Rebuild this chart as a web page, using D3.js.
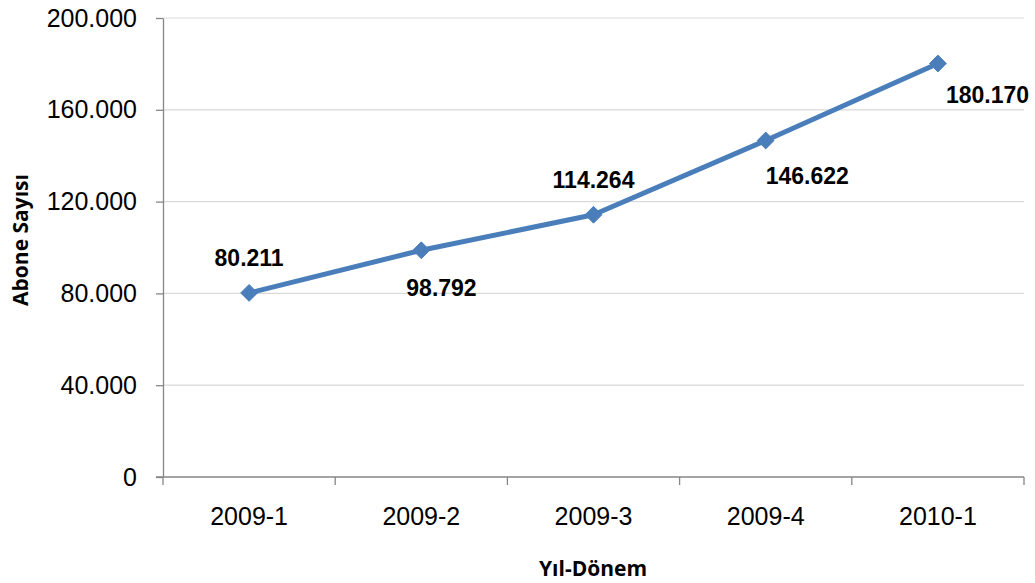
<!DOCTYPE html>
<html>
<head>
<meta charset="utf-8">
<script src="https://cdn.jsdelivr.net/npm/d3@7"></script>
<style>
  html, body { margin: 0; padding: 0; background: #fff; }
  svg { display: block; }
</style>
</head>
<body>
<svg id="chart" width="1035" height="583"></svg>
<script>
// Subscriber counts per period
const periods = ["2009-1", "2009-2", "2009-3", "2009-4", "2010-1"];
const subscribers = [80211, 98792, 114264, 146622, 180170];
const yTicks = [0, 40000, 80000, 120000, 160000, 200000];
// Where each value label sits relative to its point
const labelSide = ["above", "belowLeft", "above", "below", "belowRight"];

const fmt = v => d3.format(",")(v).replace(/,/g, ".");

const svg = d3.select("#chart");
const margin = { left: 163, right: 11, top: 18, bottom: 106 };
const W = 1035, H = 583;

const x = d3.scaleBand().domain(periods)
  .range([margin.left, W - margin.right]).paddingInner(0).paddingOuter(0);
const y = d3.scaleLinear().domain([0, 200000]).range([H - margin.bottom, margin.top]);

// Horizontal gridlines
svg.append("g").selectAll("line").data(yTicks.filter(d => d > 0)).join("line")
  .attr("x1", margin.left).attr("x2", W - margin.right)
  .attr("y1", d => y(d)).attr("y2", d => y(d))
  .attr("stroke", "#d9d9d9").attr("stroke-width", 1.2);

// Y axis
const yAxis = svg.append("g").attr("transform", `translate(${margin.left},0)`)
  .call(d3.axisLeft(y).tickValues(yTicks).tickFormat(fmt).tickSize(7).tickSizeOuter(0).tickPadding(19));
yAxis.select(".domain").attr("stroke", "#868686").attr("stroke-width", 1.3);
yAxis.selectAll(".tick line").attr("stroke", "#868686").attr("stroke-width", 1.3);
yAxis.selectAll("text").attr("font-family", "Liberation Sans, Arial, sans-serif")
  .attr("font-size", 25).attr("fill", "#000");

// X axis with ticks on band boundaries
const xAxis = svg.append("g").attr("transform", `translate(0,${y(0)})`)
  .call(d3.axisBottom(x).tickSize(0).tickPadding(30));
xAxis.select(".domain").remove();
xAxis.append("line").attr("x1", margin.left - 7).attr("x2", W - margin.right)
  .attr("stroke", "#868686").attr("stroke-width", 1.3);
const bounds = periods.map(p => x(p)).concat([x(periods[periods.length - 1]) + x.bandwidth()]);
xAxis.selectAll(".bound").data(bounds).join("line").attr("class", "bound")
  .attr("x1", d => d).attr("x2", d => d).attr("y1", 0).attr("y2", 8)
  .attr("stroke", "#868686").attr("stroke-width", 1.3);
xAxis.selectAll("text").attr("font-family", "Liberation Sans, Arial, sans-serif")
  .attr("font-size", 25).attr("fill", "#000");

// Axis titles
svg.append("text").attr("x", 593).attr("y", 576).attr("text-anchor", "middle")
  .attr("font-family", "Open Sans, sans-serif").attr("font-weight", "bold")
  .attr("font-size", 21).text("Yıl-Dönem");
svg.append("text").attr("transform", "translate(28,240) rotate(-90)").attr("text-anchor", "middle")
  .attr("font-family", "Open Sans, sans-serif").attr("font-weight", "bold")
  .attr("font-size", 21).text("Abone Sayısı");

// Line series
const cx = (d, i) => x(periods[i]) + x.bandwidth() / 2;
const line = d3.line().x((d, i) => cx(d, i)).y(d => y(d));
svg.append("path").datum(subscribers).attr("d", line)
  .attr("fill", "none").attr("stroke", "#4a7ebb").attr("stroke-width", 5)
  .attr("stroke-linejoin", "round");

// Diamond markers
svg.append("g").selectAll("path").data(subscribers).join("path")
  .attr("d", d3.symbol().type(d3.symbolDiamond2).size(180))
  .attr("transform", (d, i) => `translate(${cx(d, i)},${y(d)})`)
  .attr("fill", "#4a7ebb").attr("stroke", "#4a7ebb").attr("stroke-width", 1);

// Value labels
const offsets = {
  above: { dx: 0, dy: -27, anchor: "middle" },
  belowLeft: { dx: -15, dy: 46, anchor: "start" },
  below: { dx: 0, dy: 43, anchor: "start" },
  belowRight: { dx: 8, dy: 39, anchor: "start" }
};
svg.append("g").selectAll("text").data(subscribers).join("text")
  .attr("x", (d, i) => cx(d, i) + offsets[labelSide[i]].dx)
  .attr("y", (d, i) => y(d) + offsets[labelSide[i]].dy)
  .attr("text-anchor", (d, i) => offsets[labelSide[i]].anchor)
  .attr("font-family", "Liberation Sans, Arial, sans-serif").attr("font-weight", "bold")
  .attr("font-size", 23).attr("fill", "#000").text(fmt);
</script>
</body>
</html>
